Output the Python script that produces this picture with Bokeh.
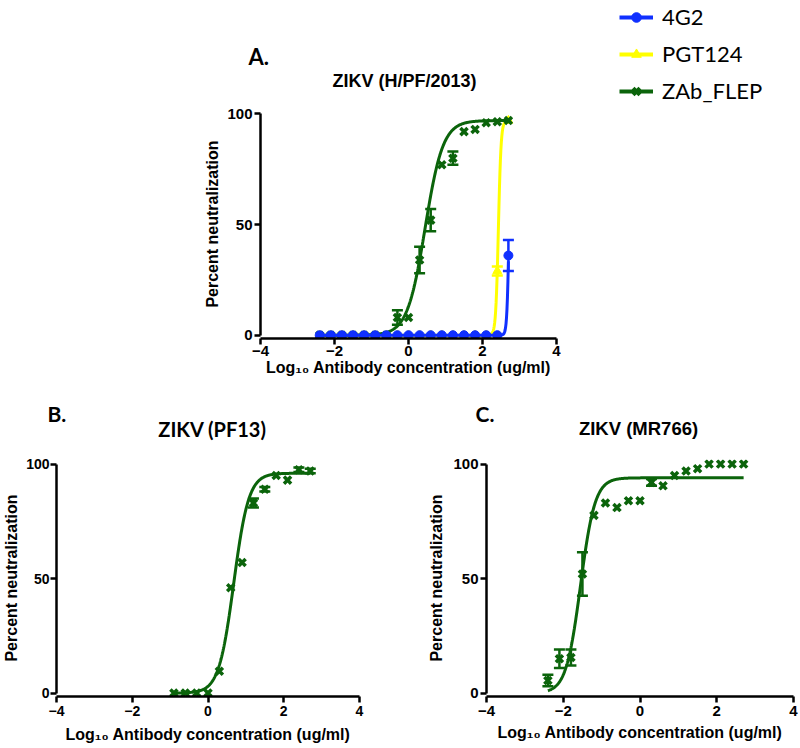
import numpy as np
from bokeh.plotting import figure
from bokeh.layouts import column, row
from bokeh.models import (Range1d, Label, Legend, LegendItem, Whisker, TeeHead,
                          ColumnDataSource, FixedTicker)
from bokeh.embed import file_html
from bokeh.resources import INLINE

# ---------------- data ----------------
x_ticks = [-4, -2, 0, 2, 4]
y_ticks = [0, 50, 100]

# Panel A: ZIKV (H/PF/2013), log10 concentration (2-fold dilutions)
conc_a = [2.70, 2.40, 2.10, 1.80, 1.50, 1.20, 0.90, 0.60, 0.30, 0.00,
          -0.30, -0.60, -0.90, -1.20, -1.50, -1.80, -2.10, -2.40]
g2_a = [36, 0, 0, 0, 0, 0, 0, 0, 0, 0, 0, 0, 0, 0, 0, 0, 0, 0]
g2_a_err = [7, 0, 0, 0, 0, 0, 0, 0, 0, 0, 0, 0, 0, 0, 0, 0, 0, 0]
pgt_a = [97, 29, 0, 0, 0, 0, 0, 0, 0, 0, 0, 0, 0, 0, 0, 0, 0, 0]
pgt_a_err = [0, 2, 0, 0, 0, 0, 0, 0, 0, 0, 0, 0, 0, 0, 0, 0, 0, 0]
zab_a = [97, 96.5, 96, 93, 92, 80, 77, 52, 34, 8, 8, 0, 0, 0, 0, 0, 0, 0]
zab_a_err = [0, 0, 0, 0, 0, 3, 0, 5, 6, 0, 3.3, 0, 0, 0, 0, 0, 0, 0]

# Panel B: ZIKV (PF13)
conc_b = [2.70, 2.40, 2.10, 1.80, 1.50, 1.20, 0.90, 0.60, 0.30, 0.00, -0.30, -0.60, -0.90]
zab_b = [97, 97.5, 93, 95, 89, 83, 57, 46, 9.5, 0, 0, 0, 0]
zab_b_err = [1, 1, 0, 0, 1, 2, 0, 0, 0, 0, 0, 0, 0]

# Panel C: ZIKV (MR766)
conc_c = [2.70, 2.40, 2.10, 1.80, 1.50, 1.20, 0.90, 0.60, 0.30, 0.00,
          -0.30, -0.60, -0.90, -1.20, -1.50, -1.80, -2.10, -2.40]
zab_c = [100, 100, 100, 100, 98, 97, 95, 90.5, 92, 84, 84, 81, 83, 77.6, 52, 15.5, 15, 5.5]
zab_c_err = [0, 0, 0, 0, 0, 0, 0, 0, 1.5, 0, 0, 0, 0, 0, 9.5, 3.5, 4, 2.5]

# fitted 4-parameter logistic curves: (bottom, top, logEC50, hill)
fit_g2_a = (0, 100, 2.72, 15)
fit_pgt_a = (0, 97, 2.43, 12)
fit_zab_a = (0, 97, 0.45, 1.8)
fit_zab_b = (0, 96, 0.68, 2.2)
fit_zab_c = (0, 94, -1.55, 2.3)

legend_labels = ["4G2", "PGT124", "ZAb_FLEP"]
panel_letters = ["A.", "B.", "C."]
panel_titles = ["ZIKV (H/PF/2013)", "ZIKV (PF13)", "ZIKV (MR766)"]

BLUE = "#1030ff"
YELLOW = "#ffff00"
GREEN = "#0b640b"
ARIAL = "Liberation Sans"
CALIBRI = "Lato"


def curve(xs, params):
    b, t, ec, h = params
    xx = np.linspace(min(xs), max(xs), 400)
    return xx, b + (t - b) / (1 + 10 ** ((ec - xx) * h))


def style_axis(ax, tick_fs, label_fs, tick_std, lab_std):
    ax.axis_line_color = "black"
    ax.axis_line_width = 2.5
    ax.major_tick_line_color = "black"
    ax.major_tick_line_width = 2.5
    ax.major_tick_in = 0
    ax.major_tick_out = 6
    ax.minor_tick_line_color = None
    ax.major_label_text_font = ARIAL
    ax.major_label_text_font_style = "bold"
    ax.major_label_text_font_size = tick_fs
    ax.major_label_text_color = "black"
    ax.axis_label_text_font = ARIAL
    ax.axis_label_text_font_style = "bold"
    ax.axis_label_text_font_size = label_fs
    ax.axis_label_text_color = "black"
    ax.major_label_standoff = tick_std
    ax.axis_label_standoff = lab_std


def make_fig(width, height, left, right, top, bottom, tick_fs, label_fs, xstd, ystd):
    p = figure(width=width, height=height, x_range=Range1d(-4, 4), y_range=Range1d(-1.5, 102),
               output_backend="svg", toolbar_location=None, title=None,
               min_border_left=left, min_border_right=right,
               min_border_top=top, min_border_bottom=bottom)
    p.outline_line_color = None
    p.xgrid.visible = False
    p.ygrid.visible = False
    style_axis(p.xaxis[0], tick_fs, label_fs, *xstd)
    style_axis(p.yaxis[0], tick_fs, label_fs, *ystd)
    p.xaxis.ticker = FixedTicker(ticks=x_ticks)
    p.yaxis.ticker = FixedTicker(ticks=y_ticks)
    p.xaxis.bounds = (-4, 4)
    p.yaxis.bounds = (0, 100)
    p.xaxis.axis_label = "Log\u2081\u2080 Antibody concentration (ug/ml)"
    p.yaxis.axis_label = "Percent neutralization"
    return p


def make_header(width, height):
    # a text strip whose data units are pixels (y downward)
    h = figure(width=width, height=height, x_range=Range1d(0, width), y_range=Range1d(height, 0),
               x_axis_type=None, y_axis_type=None, output_backend="svg",
               toolbar_location=None, title=None, min_border=0)
    h.outline_line_color = None
    h.xgrid.visible = False
    h.ygrid.visible = False
    return h


def add_text(h, x, y, text, font, size, align="left"):
    h.add_layout(Label(x=x, y=y, text=text, text_font=font, text_font_style="bold",
                       text_font_size=size, text_align=align, text_baseline="alphabetic",
                       text_color="black"))


def add_series(p, xs, ys, errs, fit, color, marker, size, lw=3):
    xx, yy = curve(xs, fit)
    p.line(xx, yy, line_color=color, line_width=lw)
    src = ColumnDataSource(dict(
        x=[x for x, e in zip(xs, errs) if e > 0],
        upper=[y + e for y, e in zip(ys, errs) if e > 0],
        lower=[y - e for y, e in zip(ys, errs) if e > 0]))
    if len(src.data["x"]):
        w = Whisker(source=src, base="x", upper="upper", lower="lower", dimension="height",
                    line_color=color, line_width=2.5,
                    upper_head=TeeHead(size=11, line_color=color, line_width=2.5),
                    lower_head=TeeHead(size=11, line_color=color, line_width=2.5))
        p.add_layout(w)
    if marker == "x":
        p.scatter(xs, ys, marker="x", size=size, line_color=color, line_width=3.5)
    else:
        p.scatter(xs, ys, marker=marker, size=size, fill_color=color, line_color=color)


# ---------------- header for panel A (letter, title, legend) ----------------
ha = make_header(800, 104)
add_text(ha, 248, 56, panel_letters[0], CALIBRI, "22px")
add_text(ha, 404, 80, panel_titles[0], ARIAL, "18px", "center")

# legend proxies: the real series mapped onto an off-canvas range, so only the
# legend swatches are visible
ha.extra_y_ranges = {"offcanvas": Range1d(1000, 1001)}
leg_series = [(conc_a, g2_a, BLUE, "circle"), (conc_a, pgt_a, YELLOW, "triangle"),
              (conc_a, zab_a, GREEN, "x")]
items = []
for lab, (xs, ys, col, mk) in zip(legend_labels, leg_series):
    ln = ha.line(xs, ys, line_color=col, line_width=4, y_range_name="offcanvas")
    if mk == "x":
        sc = ha.scatter(xs, ys, marker="x", size=12, line_color=col, line_width=4,
                        y_range_name="offcanvas")
    else:
        sc = ha.scatter(xs, ys, marker=mk, size=11, fill_color=col, line_color=col,
                        y_range_name="offcanvas")
    items.append(LegendItem(label=lab, renderers=[ln, sc]))
legend = Legend(items=items, location=(619, 0), orientation="vertical",
                label_text_font=CALIBRI, label_text_font_size="22px",
                label_text_color="black",
                glyph_width=34, glyph_height=24, label_height=24, label_standoff=9,
                spacing=10, padding=0, margin=0,
                border_line_color=None, background_fill_alpha=0)
ha.add_layout(legend)

# ---------------- Panel A ----------------
pa = make_fig(800, 282, 260, 244, 5, 48, "15px", "16px", (1, 0), (2, 3))
add_series(pa, conc_a, pgt_a, pgt_a_err, fit_pgt_a, YELLOW, "triangle", 9)
add_series(pa, conc_a, zab_a, zab_a_err, fit_zab_a, GREEN, "x", 10)
add_series(pa, conc_a, g2_a, g2_a_err, fit_g2_a, BLUE, "circle", 9)

# ---------------- header for panels B and C ----------------
hbc = make_header(800, 57)
add_text(hbc, 47, 27, panel_letters[1], CALIBRI, "21px")
add_text(hbc, 212, 42, panel_titles[1], CALIBRI, "20px", "center")
add_text(hbc, 475, 27, panel_letters[2], CALIBRI, "21px")
add_text(hbc, 638, 42, panel_titles[2], ARIAL, "18.5px", "center")

# ---------------- Panels B and C ----------------
pb = make_fig(400, 305, 54, 41, 16, 52, "14px", "16px", (3, 7), (1, 3))
add_series(pb, conc_b, zab_b, zab_b_err, fit_zab_b, GREEN, "x", 10)

pc = make_fig(400, 305, 86, 7, 16, 52, "15px", "16px", (3, 5), (2, 5))
add_series(pc, conc_c, zab_c, zab_c_err, fit_zab_c, GREEN, "x", 10)

layout = column(row(ha), row(pa), row(hbc), row(pb, pc, spacing=0), spacing=0)
open("out.html", "w").write(file_html(layout, INLINE))
